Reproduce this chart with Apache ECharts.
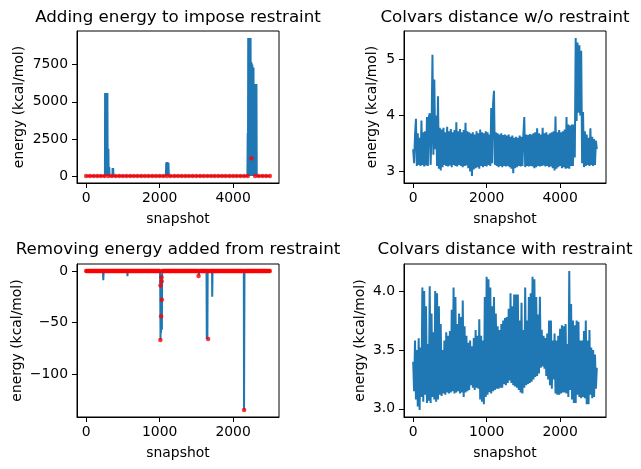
<!DOCTYPE html>
<html>
<head>
<meta charset="utf-8">
<script src="https://cdn.jsdelivr.net/npm/echarts@6/dist/echarts.min.js"></script>
<style>
  html, body { margin: 0; padding: 0; background: #fff; }
  #main { width: 641px; height: 469px; }
</style>
</head>
<body>
<div id="main"></div>
<script>
// 添加约束能量 (top left): sparse line, value is 0 between the spikes
const addSnap = [0, 510, 515, 522, 530, 538, 546, 554, 562, 570, 578, 586, 592, 598, 605, 612, 620, 626, 630, 636,
  715, 720, 728, 735, 742, 2170, 2180, 2190, 2200, 2210, 2220, 2230, 2240, 2250,
  4390, 4398, 4405, 4412, 4420, 4428, 4436, 4444, 4452, 4460, 4468, 4476, 4484, 4492, 4500, 4508, 4516,
  4524, 4532, 4540, 4548, 4556, 4564, 4572, 4580, 4588, 4596, 4604, 4612, 4620, 4628, 4636, 4644, 5000];
const addEnergy = [0, 0, 5600, 0, 5600, 0, 5600, 0, 5600, 0, 5600, 0, 1840, 0, 1840, 0, 606, 0, 600, 0,
  0, 550, 0, 550, 0, 0, 920, 0, 940, 0, 930, 0, 900, 0,
  0, 2900, 0, 9300, 0, 9300, 0, 9300, 0, 9300, 0, 9300, 0, 7700, 0, 7600, 0,
  7500, 0, 7300, 0, 7300, 0, 6200, 0, 6200, 0, 6200, 0, 6200, 0, 6200, 0, 0];
// red dots every 100 snapshots
const addDotStep = 100;
const addDots = [0, 0, 0, 0, 0, 0, 0, 0, 0, 0,
  0, 0, 0, 0, 0, 0, 0, 0, 0, 0,
  0, 0, 0, 0, 0, 0, 0, 0, 0, 0,
  0, 0, 0, 0, 0, 0, 0, 0, 0, 0,
  0, 0, 0, 0, 0, 1200, 0, 0, 0, 0,
  0];

// colvars distance w/o restraint (top right), every 25 snapshots
const freeStep = 25;
const freeDist = [
  3.40, 3.15, 3.65, 3.94, 3.10, 3.68, 3.12, 3.60,
  3.10, 3.91, 3.12, 3.70, 3.09, 3.72, 3.11, 3.97,
  3.10, 3.96, 4.04, 3.12, 3.70, 5.08, 3.30, 4.64,
  3.40, 4.00, 3.10, 4.34, 3.05, 3.78, 3.02, 3.75,
  3.08, 3.78, 3.12, 3.70, 3.10, 3.80, 3.09, 3.72,
  3.11, 3.76, 3.08, 3.70, 3.12, 3.74, 3.10, 3.88,
  3.09, 3.72, 3.12, 3.76, 3.10, 3.70, 3.08, 3.74,
  3.10, 3.87, 3.11, 3.72, 3.06, 3.70, 3.00, 3.68,
  2.92, 3.70, 3.04, 3.66, 3.06, 3.72, 3.08, 3.68,
  3.05, 3.75, 3.10, 3.70, 3.08, 3.68, 3.10, 3.72,
  3.09, 3.70, 3.12, 3.66, 3.10, 4.13, 3.15, 4.20,
  4.44, 3.12, 3.70, 3.10, 3.68, 3.08, 3.66, 3.10,
  3.68, 3.08, 3.65, 3.10, 3.66, 3.09, 3.64, 3.10,
  3.66, 3.08, 3.62, 3.05, 3.64, 2.97, 3.60, 3.06,
  3.62, 3.08, 3.60, 3.10, 3.64, 3.09, 3.62, 3.10,
  3.66, 3.97, 3.08, 3.66, 3.10, 3.65, 3.09, 3.67,
  3.10, 3.66, 3.09, 3.68, 3.06, 3.70, 3.08, 3.77,
  3.10, 3.68, 3.09, 3.66, 3.10, 3.78, 3.11, 3.68,
  3.09, 3.70, 3.10, 3.66, 3.08, 3.68, 3.09, 3.70,
  3.06, 3.72, 3.02, 3.98, 3.05, 3.70, 3.08, 3.74,
  3.10, 3.70, 3.06, 3.72, 3.08, 3.75, 3.05, 3.97,
  3.06, 3.84, 3.05, 3.82, 3.10, 3.84, 3.10, 3.84,
  3.25, 5.38, 3.90, 5.30, 4.05, 5.25, 4.00, 5.15,
  3.15, 4.06, 3.08, 3.72, 3.10, 3.66, 3.12, 3.60,
  3.10, 3.77, 3.12, 3.62, 3.10, 3.58, 3.12, 3.55,
  3.40];

// 去除约束能量 (bottom left)
const removeSnap = [0, 228, 233, 238, 558, 562, 566, 765, 768, 771,
  1005, 1008, 1010, 1012, 1015, 1018, 1021, 1024, 1026, 1028, 1031, 1034,
  1530, 1534, 1538, 1638, 1642, 1646, 1650, 1654, 1713, 1716, 1720,
  2146, 2149, 2152, 2155, 2500];
const removeEnergy = [0, 0, -9, 0, 0, -5, 0, 0, -1, 0,
  0, -14, -44, -67, -20, -60, -30, -6, -10, -28, -57, 0,
  0, -4, 0, 0, -66, -30, -66, 0, 0, -25, 0,
  0, -135, -135, 0, 0];
// red dots every 10 snapshots
const removeDotStep = 10;
const removeDots = [
  0, 0, 0, 0, 0, 0, 0, 0, 0, 0,
  0, 0, 0, 0, 0, 0, 0, 0, 0, 0,
  0, 0, 0, 0, 0, 0, 0, 0, 0, 0,
  0, 0, 0, 0, 0, 0, 0, 0, 0, 0,
  0, 0, 0, 0, 0, 0, 0, 0, 0, 0,
  0, 0, 0, 0, 0, 0, 0, 0, 0, 0,
  0, 0, 0, 0, 0, 0, 0, 0, 0, 0,
  0, 0, 0, 0, 0, 0, 0, 0, 0, 0,
  0, 0, 0, 0, 0, 0, 0, 0, 0, 0,
  0, 0, 0, 0, 0, 0, 0, 0, 0, 0,
  0, -67, -44, -28, 0, 0, 0, 0, 0, 0,
  0, 0, 0, 0, 0, 0, 0, 0, 0, 0,
  0, 0, 0, 0, 0, 0, 0, 0, 0, 0,
  0, 0, 0, 0, 0, 0, 0, 0, 0, 0,
  0, 0, 0, 0, 0, 0, 0, 0, 0, 0,
  0, 0, 0, -5, 0, 0, 0, 0, 0, 0,
  0, 0, 0, 0, 0, 0, -66, 0, 0, 0,
  0, 0, 0, 0, 0, 0, 0, 0, 0, 0,
  0, 0, 0, 0, 0, 0, 0, 0, 0, 0,
  0, 0, 0, 0, 0, 0, 0, 0, 0, 0,
  0, 0, 0, 0, 0, 0, 0, 0, 0, 0,
  0, 0, 0, 0, 0, -135, 0, 0, 0, 0,
  0, 0, 0, 0, 0, 0, 0, 0, 0, 0,
  0, 0, 0, 0, 0, 0, 0, 0, 0, 0,
  0, 0, 0, 0, 0, 0, 0, 0, 0, 0,
  0];
const removeExtraSnap = [1012, 1025, 1027];
const removeExtraDots = [-14, -6, -10];

// colvars distance with restraint (bottom right), every 12.5 snapshots
const restStep = 12.5;
const restDist = [
  3.40, 3.15, 3.58, 3.08, 3.50, 3.02, 3.60, 2.99,
  3.52, 3.10, 4.03, 3.06, 4.00, 3.12, 3.87, 3.05,
  3.55, 3.07, 4.04, 3.05, 3.81, 3.10, 3.65, 3.08,
  4.00, 3.06, 3.98, 3.08, 3.87, 3.12, 3.72, 3.11,
  3.50, 3.13, 3.58, 3.12, 3.65, 3.14, 3.62, 3.13,
  3.66, 3.14, 3.84, 3.15, 4.03, 3.13, 3.95, 3.14,
  3.72, 3.15, 3.81, 3.13, 3.78, 3.14, 3.92, 3.10,
  3.70, 3.14, 3.62, 3.15, 3.56, 3.16, 3.58, 3.20,
  3.53, 3.18, 3.60, 3.16, 3.67, 3.18, 3.62, 3.17,
  3.76, 3.08, 3.62, 3.06, 3.58, 3.04, 3.95, 3.10,
  4.12, 3.12, 4.10, 3.14, 4.03, 3.13, 3.87, 3.15,
  3.95, 3.16, 3.81, 3.17, 3.70, 3.17, 3.67, 3.18,
  3.72, 3.18, 3.75, 3.21, 3.77, 3.20, 3.78, 3.22,
  3.85, 3.24, 3.98, 3.22, 3.87, 3.20, 3.97, 3.19,
  3.97, 3.18, 3.97, 3.16, 3.75, 3.14, 3.90, 3.13,
  3.67, 3.18, 4.03, 3.20, 3.75, 3.21, 3.95, 3.22,
  3.98, 3.23, 4.12, 3.25, 4.10, 3.27, 3.95, 3.28,
  3.80, 3.30, 3.95, 3.35, 3.67, 3.36, 3.62, 3.34,
  3.60, 3.28, 3.64, 3.25, 3.75, 3.20, 3.75, 3.17,
  3.58, 3.25, 3.64, 3.13, 3.58, 3.12, 3.62, 3.12,
  3.68, 3.13, 3.71, 3.14, 3.70, 3.14, 3.72, 3.13,
  3.55, 3.10, 4.17, 3.16, 3.89, 3.08, 3.75, 3.05,
  3.71, 3.05, 3.75, 3.12, 3.74, 3.10, 3.58, 3.09,
  3.58, 3.10, 3.66, 3.09, 3.75, 3.04, 3.58, 3.04,
  3.67, 3.12, 3.52, 3.09, 3.50, 3.10, 3.46, 3.17,
  3.35];

// tick labels
const xTicksLong = [0, 2000, 4000];
const xTicksShort = [0, 1000, 2000];
const addYTicks = [0, 2500, 5000, 7500];
const freeYTicks = [3, 4, 5];
const removeYTicks = [0, -50, -100];
const restYTicks = [3.0, 3.5, 4.0];

const BLUE = '#1f77b4';
const FONT = 'DejaVu Sans';
const TICK_FS = 13.9;

function pairs(xs, ys) {
  return xs.map(function (x, i) { return [x, ys[i]]; });
}
function stepped(ys, step) {
  return ys.map(function (y, i) { return [i * step, y]; });
}

function xAxisFor(gridIndex, min, max, ticks) {
  return {
    type: 'value', gridIndex: gridIndex, min: min, max: max,
    name: 'snapshot', nameLocation: 'middle', nameGap: 29,
    nameTextStyle: { fontFamily: FONT, fontSize: TICK_FS, color: '#000' },
    axisLine: { show: true, onZero: false, lineStyle: { color: '#000', width: 1 } },
    axisTick: { show: true, length: 5, customValues: ticks, lineStyle: { color: '#000', width: 1 } },
    axisLabel: {
      customValues: ticks, margin: 8, fontFamily: FONT, fontSize: TICK_FS, color: '#000',
      formatter: function (v) { return String(v); }
    },
    splitLine: { show: false }
  };
}
function yAxisFor(gridIndex, min, max, ticks, gap, fmt) {
  return {
    type: 'value', gridIndex: gridIndex, min: min, max: max,
    name: 'energy (kcal/mol)', nameLocation: 'middle', nameGap: gap,
    nameTextStyle: { fontFamily: FONT, fontSize: TICK_FS, color: '#000' },
    axisLine: { show: true, onZero: false, lineStyle: { color: '#000', width: 1 } },
    axisTick: { show: true, length: 5, customValues: ticks, lineStyle: { color: '#000', width: 1 } },
    axisLabel: { customValues: ticks, margin: 9, fontFamily: FONT, fontSize: TICK_FS, color: '#000', formatter: fmt },
    splitLine: { show: false }
  };
}
function titleFor(text, x, y) {
  return {
    text: text, left: x, top: y, textAlign: 'center', padding: 0,
    textStyle: { fontFamily: FONT, fontSize: 16.7, fontWeight: 'normal', color: '#000' }
  };
}
const frame = { show: true, borderColor: '#000', borderWidth: 1, backgroundColor: 'transparent' };

var chart = echarts.init(document.getElementById('main'));
chart.setOption({
  animation: false,
  backgroundColor: '#fff',
  title: [
    titleFor('Adding energy to impose restraint', 178, 9),
    titleFor('Colvars distance w/o restraint', 505, 9),
    titleFor('Removing energy added from restraint', 178, 241),
    titleFor('Colvars distance with restraint', 505, 241)
  ],
  grid: [
    Object.assign({ left: 77, top: 31, width: 202, height: 152 }, frame),
    Object.assign({ left: 404, top: 31, width: 202, height: 152 }, frame),
    Object.assign({ left: 77, top: 264, width: 202, height: 153 }, frame),
    Object.assign({ left: 404, top: 264, width: 202, height: 153 }, frame)
  ],
  xAxis: [
    xAxisFor(0, -250, 5250, xTicksLong),
    xAxisFor(1, -250, 5250, xTicksLong),
    xAxisFor(2, -125, 2625, xTicksShort),
    xAxisFor(3, -125, 2625, xTicksShort)
  ],
  yAxis: [
    yAxisFor(0, -465, 9765, addYTicks, 51, function (v) { return String(v); }),
    yAxisFor(1, 2.797, 5.503, freeYTicks, 25, function (v) { return String(v); }),
    yAxisFor(2, -141.75, 6.75, removeYTicks, 53, function (v) { return String(v).replace('-', '\u2212'); }),
    yAxisFor(3, 2.931, 4.229, restYTicks, 37, function (v) { return v.toFixed(1); })
  ],
  series: [
    {
      type: 'line', xAxisIndex: 0, yAxisIndex: 0, data: pairs(addSnap, addEnergy),
      showSymbol: false, lineStyle: { color: BLUE, width: 2 }, z: 2
    },
    {
      type: 'scatter', xAxisIndex: 0, yAxisIndex: 0, data: stepped(addDots, addDotStep),
      symbolSize: 4.5, itemStyle: { color: '#ff0000' }, z: 3
    },
    {
      type: 'line', xAxisIndex: 1, yAxisIndex: 1, data: stepped(freeDist, freeStep),
      showSymbol: false, lineStyle: { color: BLUE, width: 2 }
    },
    {
      type: 'line', xAxisIndex: 2, yAxisIndex: 2, data: pairs(removeSnap, removeEnergy),
      showSymbol: false, lineStyle: { color: BLUE, width: 2 }, z: 2
    },
    {
      type: 'scatter', xAxisIndex: 2, yAxisIndex: 2,
      data: stepped(removeDots, removeDotStep).concat(pairs(removeExtraSnap, removeExtraDots)),
      symbolSize: 4.5, itemStyle: { color: '#ff0000' }, z: 3
    },
    {
      type: 'line', xAxisIndex: 3, yAxisIndex: 3, data: stepped(restDist, restStep),
      showSymbol: false, lineStyle: { color: BLUE, width: 2 }
    }
  ]
});
</script>
</body>
</html>
